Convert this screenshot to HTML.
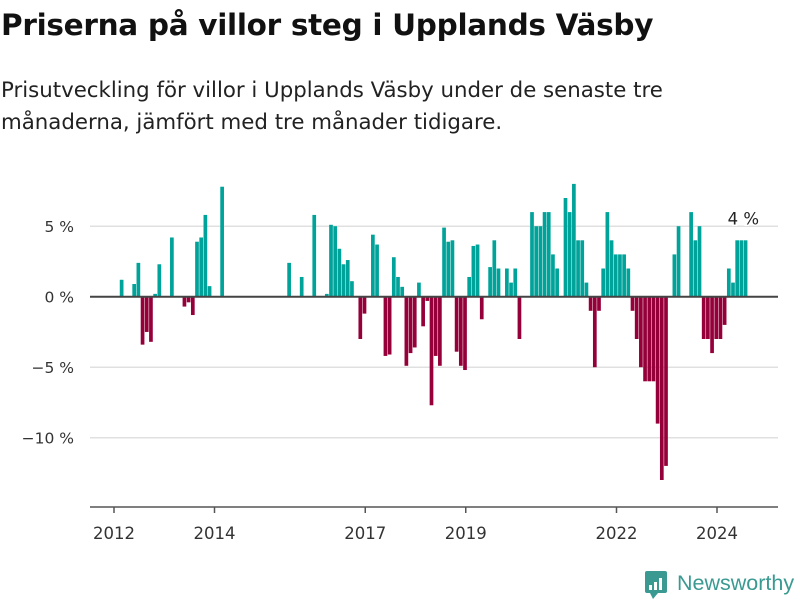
<!DOCTYPE html>
<html><head><meta charset="utf-8">
<style>
body{margin:0;background:#fff;font-family:"DejaVu Sans","Liberation Sans",sans-serif;}
#wrap{position:relative;width:800px;height:600px;overflow:hidden;}
h1{position:absolute;left:1px;top:8px;margin:0;font-size:29.5px;font-weight:bold;color:#111;letter-spacing:-0.3px;white-space:nowrap;}
p{position:absolute;left:1px;top:75px;margin:0;font-size:21.3px;line-height:32px;color:#222;width:690px;}
svg{position:absolute;left:0;top:0;}
</style></head><body>
<div id="wrap">
<h1>Priserna på villor steg i Upplands Väsby</h1>
<p>Prisutveckling för villor i Upplands Väsby under de senaste tre månaderna, jämfört med tre månader tidigare.</p>
<svg id="chart" width="800" height="600"></svg>
</div>
<script>
// month index 0 = Jan 2012
const monthIdx = [2,5,6,7,8,9,10,11,14,17,18,19,20,21,22,23,26,42,45,48,51,52,53,54,55,56,57,59,60,62,63,65,66,67,68,69,70,71,72,73,74,75,76,77,78,79,80,81,82,83,84,85,86,87,88,90,91,92,94,95,96,97,100,101,102,103,104,105,106,108,109,110,111,112,113,114,115,116,117,118,119,120,121,122,123,124,125,126,127,128,129,130,131,132,134,135,138,139,140,141,142,143,144,145,146,147,148,149,150,151];
const values = [1.2,0.9,2.4,-3.4,-2.5,-3.2,0.2,2.3,4.2,-0.7,-0.4,-1.3,3.9,4.2,5.8,0.75,7.8,2.4,1.4,5.8,0.2,5.1,5.0,3.4,2.3,2.6,1.1,-3.0,-1.2,4.4,3.7,-4.2,-4.1,2.8,1.4,0.7,-4.9,-4.0,-3.6,1.0,-2.1,-0.3,-7.7,-4.2,-4.9,4.9,3.9,4.0,-3.9,-4.9,-5.2,1.4,3.6,3.7,-1.6,2.1,4.0,2.0,2.0,1.0,2.0,-3.0,6,5,5,6,6,3,2,7,6,8,4,4,1,-1,-5,-1,2,6,4,3,3,3,2,-1,-3,-5,-6,-6,-6,-9,-13,-12,3,5,6,4,5,-3,-3,-4,-3,-3,-2,2,1,4,4,4];
const yTicks = [5,0,-5,-10];
const yTickLabels = ["5 %","0 %","−5 %","−10 %"];
const xTickMonths = [0,24,60,84,120,144];
const xTickLabels = ["2012","2014","2017","2019","2022","2024"];
const lastLabel = "4 %";

const NS="http://www.w3.org/2000/svg";
const svg=document.getElementById('chart');
const x = m => 114 + m*4.1875;
const y = v => 296.7 - v*14.1;
function mk(t,a){const e=document.createElementNS(NS,t);for(const k in a)e.setAttribute(k,a[k]);svg.appendChild(e);return e;}

yTicks.forEach((t,i)=>{
  if(t!==0){const g=mk('line',{x1:90,x2:778,y1:y(t),y2:y(t),stroke:'#e0e0e0','stroke-width':1.5});
  
  }
  const l=mk('text',{x:74,y:y(t)+6,'text-anchor':'end','font-size':15.5,fill:'#333'});
  l.textContent=yTickLabels[i];
  
  
});
monthIdx.forEach((m,i)=>{
  const v=values[i];
  const r=mk('rect',{x:x(m)-2.6,width:3.7,y:Math.min(y(v),y(0)),height:Math.abs(y(v)-y(0)),fill:v>=0?'#00a39a':'#96003a'});
  
  
});
const z=mk('line',{x1:90,x2:778,y1:y(0),y2:y(0),stroke:'#444','stroke-width':2});


const ax=mk('line',{x1:90,x2:778,y1:507,y2:507,stroke:'#555','stroke-width':1.5});


xTickMonths.forEach((m,i)=>{
  const tk=mk('line',{x1:x(m),x2:x(m),y1:507,y2:513,stroke:'#555','stroke-width':1.5});
  
  
  const l=mk('text',{x:x(m),y:539,'text-anchor':'middle','font-size':16.5,fill:'#333'});
  l.textContent=xTickLabels[i];
  
  
});
const lastM=monthIdx[monthIdx.length-1];
const ann=mk('text',{x:x(lastM)-3,y:y(values[values.length-1])-16,'text-anchor':'middle','font-size':16.5,fill:'#222',stroke:'#fff','stroke-width':3,'paint-order':'stroke'});
ann.textContent=lastLabel;


// logo
const lg=mk('rect',{x:645,y:571,width:22,height:22,rx:2,fill:'#3a9a92'});


mk('polygon',{points:'650,593 658,593 653,599',fill:'#3a9a92'});
[[649,585,3,5],[654,582,3,8],[659,578,3,12]].forEach(b=>mk('rect',{x:b[0],y:b[1],width:b[2],height:b[3],fill:'#fff'}));
const lt=mk('text',{x:677,y:590,'font-size':21.5,fill:'#3a9a92','font-family':'Liberation Sans, sans-serif'});
lt.textContent='Newsworthy';


</script>
</body></html>
